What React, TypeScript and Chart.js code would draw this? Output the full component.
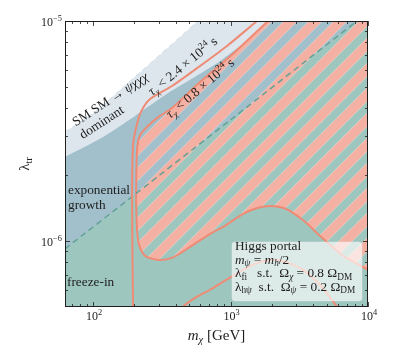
import React, { useEffect, useRef } from 'react';
import { Chart, registerables } from 'chart.js';

Chart.register(...registerables);

const FONT = '"Liberation Serif", "Times New Roman", serif';
const INK = '#1e1e1e';
const C_LIGHT = '#dee6ed';
const C_LIGHT_EDGE = '#cfdbe4';
const C_BLUE = '#a2bfcc';
const C_GREEN = '#9dc6be';
const C_SALMON = '#f4b1a3';
const C_LINE = '#ef8b75';
const C_DASH = '#64a197';

// axis ranges
const X_MIN = 62.5;
const X_MAX = 1e4;
const Y_MIN = 5e-7;
const Y_MAX = 1e-5;

// upper edge of "SM SM -> psi chi chi chi dominant" region (m_chi [GeV], lambda_tr)
const domM = [62.5, 103, 183, 376, 570, 2000, 10000];
const domL = [3.13e-6, 3.86e-6, 5.28e-6, 7.86e-6, 1.0e-5, 3.0e-5, 1.0e-4];

// upper edge of the "exponential growth" region
const growM = [62.5, 112, 202, 363, 839, 1874, 10000];
const growL = [2.41e-6, 2.91e-6, 3.7e-6, 4.76e-6, 6.58e-6, 1.0e-5, 5.0e-5];

// freeze-in boundary (dashed)
const fiM = [62.5, 200, 1000, 8320, 10000];
const fiL = [9.2e-7, 1.62e-6, 3.55e-6, 1.0e-5, 1.09e-5];

// tau_chi < 0.8e24 s region (hatched): upper and lower contour branches
const hatchTopM = [205.5, 209, 220, 260, 307, 375, 600, 1078, 1874, 2300, 12220];
const hatchTopL = [1.54e-6, 2.59e-6, 3.03e-6, 3.4e-6, 3.7e-6, 4.02e-6, 5.28e-6, 7.23e-6, 1.0e-5, 1.12e-5, 1.2e-5];
const hatchBotM = [205.5, 209, 216, 239, 292, 375, 508, 710, 912, 1233, 1585, 1938, 2409, 2848, 3482, 4477, 6577, 10000, 12220];
const hatchBotL = [1.54e-6, 1.12e-6, 9.59e-7, 8.55e-7, 8.2e-7, 8.37e-7, 9.39e-7, 1.076e-6, 1.17e-6, 1.327e-6, 1.413e-6, 1.44e-6, 1.413e-6, 1.34e-6, 1.22e-6, 1.054e-6, 8.55e-7, 7.38e-7, 6.79e-7];

// tau_chi < 2.4e24 s contour: left branch and lower hump
const outerLeftM = [1843, 1558, 943, 534, 375, 260, 223, 205.5, 195.4, 192.1, 195.4, 196];
const outerLeftL = [1.087e-5, 1.0e-5, 7.7e-6, 5.92e-6, 5.06e-6, 4.42e-6, 3.86e-6, 3.26e-6, 2.73e-6, 1.54e-6, 5.01e-7, 4.6e-7];
const outerLowM = [429, 451, 570, 710, 1233, 1585, 2037, 2618, 3367, 4477, 5951, 6471];
const outerLowL = [4.61e-7, 5.01e-7, 5.57e-7, 5.99e-7, 7.38e-7, 7.94e-7, 8.2e-7, 7.94e-7, 7.38e-7, 6.31e-7, 5.01e-7, 4.61e-7];

// ticks
const xMajor = [100, 1000, 10000];
const xMajorExp = ['2', '3', '4'];
const xMinor = [70, 80, 90, 200, 300, 400, 500, 600, 700, 800, 900, 2000, 3000, 4000, 5000, 6000, 7000, 8000, 9000];
const yMajor = [1e-6, 1e-5];
const yMajorExp = ['\u22126', '\u22125'];
const yMinor = [6e-7, 7e-7, 8e-7, 9e-7, 2e-6, 3e-6, 4e-6, 5e-6, 6e-6, 7e-6, 8e-6, 9e-6];

type Seg = { t: string; it?: boolean; sub?: boolean; sup?: boolean };

function segFont(s: Seg, size: number) {
  const sz = s.sub || s.sup ? size * 0.7 : size;
  return `${s.it ? 'italic ' : ''}${sz}px ${FONT}`;
}
function richWidth(ctx: CanvasRenderingContext2D, segs: Seg[], size: number) {
  let w = 0;
  for (const s of segs) {
    ctx.font = segFont(s, size);
    w += ctx.measureText(s.t).width;
  }
  return w;
}
function drawRich(
  ctx: CanvasRenderingContext2D,
  segs: Seg[],
  x: number,
  y: number,
  size: number,
  align: 'left' | 'center' | 'right' = 'left'
) {
  const w = richWidth(ctx, segs, size);
  let cx = align === 'left' ? x : align === 'center' ? x - w / 2 : x - w;
  ctx.textAlign = 'left';
  ctx.textBaseline = 'alphabetic';
  for (const s of segs) {
    ctx.font = segFont(s, size);
    const dy = s.sub ? size * 0.22 : s.sup ? -size * 0.4 : 0;
    ctx.fillText(s.t, cx, y + dy);
    cx += ctx.measureText(s.t).width;
  }
}
function drawRotated(
  ctx: CanvasRenderingContext2D,
  segs: Seg[],
  cx: number,
  cy: number,
  size: number,
  deg: number
) {
  ctx.save();
  ctx.translate(cx, cy);
  ctx.rotate((-deg * Math.PI) / 180);
  drawRich(ctx, segs, 0, size * 0.33, size, 'center');
  ctx.restore();
}

function makeHatch(): CanvasPattern | string {
  const P = 25;
  const S = 13.5;
  const c = document.createElement('canvas');
  c.width = P;
  c.height = P;
  const g = c.getContext('2d');
  if (!g) return C_SALMON;
  g.fillStyle = C_SALMON;
  for (let k = -2; k <= 2; k++) {
    const a = k * P + 5;
    const b = a + S;
    g.beginPath();
    g.moveTo(a, 0);
    g.lineTo(b, 0);
    g.lineTo(b - P, P);
    g.lineTo(a - P, P);
    g.closePath();
    g.fill();
  }
  g.strokeStyle = 'rgba(255,255,255,0.5)';
  g.lineWidth = 0.6;
  for (let k = -2; k <= 2; k++) {
    for (const a of [k * P + 5, k * P + 5 + S]) {
      g.beginPath();
      g.moveTo(a + P, -P);
      g.lineTo(a - 2 * P, 2 * P);
      g.stroke();
    }
  }
  return g.createPattern(c, 'repeat') || C_SALMON;
}

const pts = (M: number[], L: number[]) => M.map((m, i) => ({ x: m, y: L[i] }));

const overlay = {
  id: 'overlay',
  afterDatasetsDraw(chart: any) {
    const ctx: CanvasRenderingContext2D = chart.ctx;
    const { left, top, right, bottom } = chart.chartArea;
    const xs = chart.scales.x;
    const ys = chart.scales.y;
    ctx.save();
    ctx.fillStyle = INK;

    // region annotations
    const fs = 13.3;
    drawRich(ctx, [{ t: 'exponential' }], left + 3, top + 173, fs);
    drawRich(ctx, [{ t: 'growth' }], left + 3, top + 187.7, fs);
    drawRich(ctx, [{ t: 'freeze-in' }], left + 2, top + 265, fs);
    drawRotated(ctx, [{ t: 'SM SM \u2192 ' }, { t: '\u03c8\u03c7\u03c7\u03c7', it: true }], left + 45, top + 78, fs, 33);
    drawRotated(ctx, [{ t: 'dominant' }], left + 36.5, top + 101, fs, 33);
    drawRotated(
      ctx,
      [{ t: '\u03c4', it: true }, { t: '\u03c7', it: true, sub: true }, { t: ' < 2.4 \u00d7 10' }, { t: '24', sup: true }, { t: ' s' }],
      left + 117.5,
      top + 45,
      fs,
      39
    );
    drawRotated(
      ctx,
      [{ t: '\u03c4', it: true }, { t: '\u03c7', it: true, sub: true }, { t: ' < 0.8 \u00d7 10' }, { t: '24', sup: true }, { t: ' s' }],
      left + 135,
      top + 67,
      fs,
      40
    );

    // legend box
    const bx = left + 167;
    const by = top + 221;
    const bw = 130;
    const bh = 59;
    ctx.beginPath();
    (ctx as any).roundRect ? (ctx as any).roundRect(bx, by, bw, bh, 3) : ctx.rect(bx, by, bw, bh);
    ctx.fillStyle = 'rgba(255,255,255,0.65)';
    ctx.fill();
    ctx.strokeStyle = 'rgba(230,230,230,0.6)';
    ctx.lineWidth = 0.8;
    ctx.stroke();
    ctx.fillStyle = INK;
    const tx = bx + 3;
    drawRich(ctx, [{ t: 'Higgs portal' }], tx, top + 229, fs);
    drawRich(
      ctx,
      [{ t: 'm', it: true }, { t: '\u03c8', it: true, sub: true }, { t: ' = ' }, { t: 'm', it: true }, { t: 'h', it: true, sub: true }, { t: '/2' }],
      tx,
      top + 242.5,
      fs
    );
    drawRich(
      ctx,
      [{ t: '\u03bb' }, { t: 'fi', sub: true }, { t: '   s.t.  ' }, { t: '\u03a9' }, { t: '\u03c7', it: true, sub: true }, { t: ' = 0.8 ' }, { t: '\u03a9' }, { t: 'DM', sub: true }],
      tx,
      top + 256,
      fs
    );
    drawRich(
      ctx,
      [{ t: '\u03bb' }, { t: 'h\u03c8', sub: true }, { t: '  s.t.  ' }, { t: '\u03a9' }, { t: '\u03c8', it: true, sub: true }, { t: ' = 0.2 ' }, { t: '\u03a9' }, { t: 'DM', sub: true }],
      tx,
      top + 269.5,
      fs
    );

    // ticks (inward, all sides)
    ctx.strokeStyle = INK;
    ctx.lineWidth = 0.8;
    const tick = (x1: number, y1: number, x2: number, y2: number) => {
      ctx.beginPath();
      ctx.moveTo(x1, y1);
      ctx.lineTo(x2, y2);
      ctx.stroke();
    };
    for (const v of xMajor) {
      const p = Math.round(xs.getPixelForValue(v)) + 0.5;
      tick(p, bottom, p, bottom - 5);
      tick(p, top, p, top + 5);
    }
    for (const v of xMinor) {
      const p = Math.round(xs.getPixelForValue(v)) + 0.5;
      tick(p, bottom, p, bottom - 3);
      tick(p, top, p, top + 3);
    }
    for (const v of yMajor) {
      const p = Math.round(ys.getPixelForValue(v)) + 0.5;
      tick(left, p, left + 5, p);
      tick(right, p, right - 5, p);
    }
    for (const v of yMinor) {
      const p = Math.round(ys.getPixelForValue(v)) + 0.5;
      tick(left, p, left + 3, p);
      tick(right, p, right - 3, p);
    }
    // frame
    ctx.lineWidth = 1;
    ctx.strokeRect(left + 0.5, top + 0.5, right - left - 1, bottom - top - 1);

    // tick labels
    ctx.fillStyle = INK;
    xMajor.forEach((v, i) => {
      const p = xs.getPixelForValue(v);
      drawRich(ctx, [{ t: '10' }, { t: xMajorExp[i], sup: true }], p + 1, bottom + 13, 12, 'center');
    });
    yMajor.forEach((v, i) => {
      const p = ys.getPixelForValue(v);
      drawRich(ctx, [{ t: '10' }, { t: yMajorExp[i], sup: true }], left - 3, p + 5, 12, 'right');
    });

    // axis labels
    drawRich(ctx, [{ t: 'm', it: true }, { t: '\u03c7', it: true, sub: true }, { t: ' [GeV]' }], (left + right) / 2, bottom + 33, 15, 'center');
    ctx.save();
    ctx.translate(left - 36, (top + bottom) / 2);
    ctx.rotate(-Math.PI / 2);
    drawRich(ctx, [{ t: '\u03bb' }, { t: 'tr', sub: true }], 0, 0, 15, 'center');
    ctx.restore();

    ctx.restore();
  },
};

export default function App() {
  const ref = useRef<HTMLCanvasElement>(null);
  useEffect(() => {
    const canvas = ref.current;
    if (!canvas) return;
    const hatch = makeHatch();
    const base = { pointRadius: 0, clip: 0, tension: 0.25 };
    const chart = new Chart(canvas, {
      type: 'line',
      data: {
        datasets: [
          {
            ...base,
            label: 'SM SM dominant',
            data: pts(domM, domL),
            fill: 'start',
            backgroundColor: C_LIGHT,
            borderColor: C_LIGHT_EDGE,
            borderWidth: 1,
            borderDash: [5, 4],
            order: 10,
          },
          {
            ...base,
            label: 'exponential growth',
            data: pts(growM, growL),
            fill: 'start',
            backgroundColor: C_BLUE,
            borderWidth: 0,
            order: 9,
          },
          {
            ...base,
            label: 'freeze-in',
            data: pts(fiM, fiL),
            fill: 'start',
            backgroundColor: C_GREEN,
            borderWidth: 0,
            order: 8,
          },
          {
            ...base,
            label: 'tau < 0.8e24 s (upper)',
            data: pts(hatchTopM, hatchTopL),
            fill: '+1',
            backgroundColor: hatch as any,
            borderColor: C_LINE,
            borderWidth: 2,
            order: 6,
          },
          {
            ...base,
            label: 'tau < 0.8e24 s (lower)',
            data: pts(hatchBotM, hatchBotL),
            fill: false,
            borderColor: C_LINE,
            borderWidth: 2,
            order: 5,
          },
          {
            ...base,
            label: 'freeze-in boundary',
            data: pts(fiM, fiL),
            fill: false,
            borderColor: C_DASH,
            borderWidth: 1.5,
            borderDash: [6, 4],
            order: 4,
          },
          {
            ...base,
            label: 'tau < 2.4e24 s (left)',
            data: pts(outerLeftM, outerLeftL),
            fill: false,
            borderColor: C_LINE,
            borderWidth: 2,
            order: 3,
          },
          {
            ...base,
            label: 'tau < 2.4e24 s (low)',
            data: pts(outerLowM, outerLowL),
            fill: false,
            borderColor: C_LINE,
            borderWidth: 2,
            order: 2,
          },
        ] as any,
      },
      options: {
        animation: false,
        responsive: false,
        devicePixelRatio: 1,
        layout: { padding: { left: 65, top: 21, right: 26, bottom: 54 } },
        scales: {
          x: { type: 'logarithmic', min: X_MIN, max: X_MAX, display: false },
          y: { type: 'logarithmic', min: Y_MIN, max: Y_MAX, display: false },
        },
        plugins: { legend: { display: false }, tooltip: { enabled: false } },
        events: [],
      } as any,
      plugins: [overlay],
    });
    return () => chart.destroy();
  }, []);
  return (
    <div style={{ position: 'fixed', left: 0, top: 0, width: 394, height: 361, background: '#fff' }}>
      <canvas ref={ref} width={394} height={361} style={{ display: 'block', width: 394, height: 361 }} />
    </div>
  );
}
